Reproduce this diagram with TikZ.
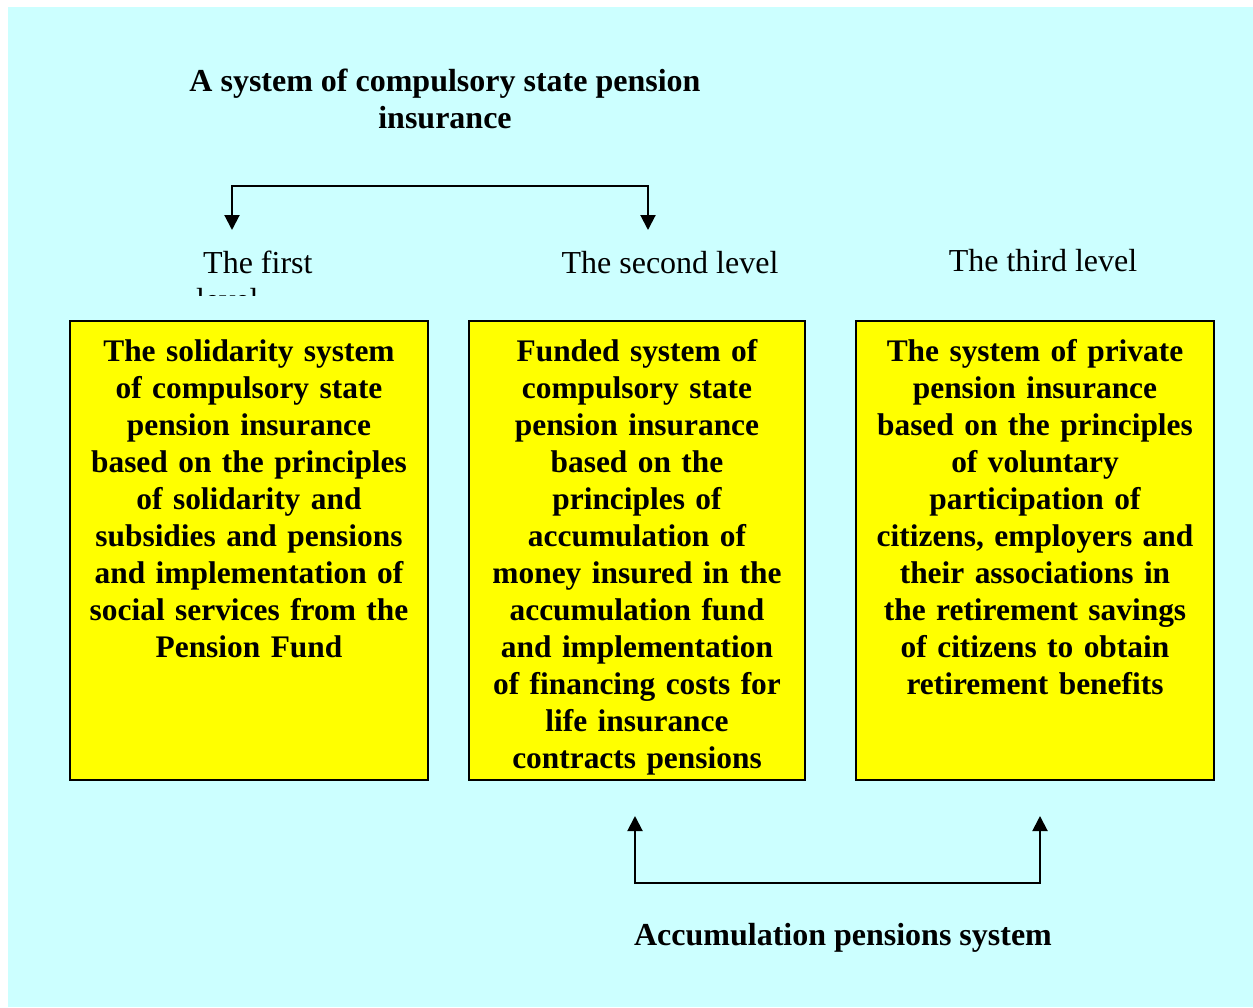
\documentclass[tikz,border=0pt]{standalone}
\usepackage{fontspec}
\setmainfont{Liberation Serif}
\usetikzlibrary{arrows.meta}
\definecolor{bgcyan}{HTML}{CCFFFF}
\definecolor{boxyellow}{HTML}{FFFF00}
\tikzset{
  txt/.style={inner sep=0pt, font=\fontsize{32}{37}\selectfont},
  boldtxt/.style={txt, font=\fontsize{32}{37}\selectfont\bfseries},
  yellowbox/.style={draw=black, line width=2pt, fill=boxyellow, inner sep=0pt},
  boxtext/.style={inner sep=0pt, font=\fontsize{31.4}{37}\selectfont\bfseries, align=center, text width=340pt, anchor=base},
  conn/.style={line width=2pt, {Triangle[length=15pt,width=15pt]}-{Triangle[length=15pt,width=15pt]}}
}
\begin{document}
\begin{tikzpicture}[x=1pt,y=-1pt]
\useasboundingbox (0,0) rectangle (1253,1007);
\fill[bgcyan] (8,7) rectangle (1253,1007);

% title
\node[boldtxt, anchor=base] (title1) at (445,91) {A system of compulsory state pension};
\node[boldtxt, anchor=base] (title2) at (445,128) {insurance};

% level labels
\node[txt, anchor=base west] (l1) at (195,273) {\hspace*{8pt}The first};
\begin{scope}
  \clip (150,280) rectangle (350,295);
  \node[txt, anchor=base west] (l1b) at (196,310) {level};
\end{scope}
\node[txt, anchor=base] (l2) at (670,273) {The second level};
\node[txt, anchor=base] (l3) at (1043,271) {The third level};

% top connector
\coordinate (tipL) at (232,230);
\coordinate (tipR) at (648,230);
\coordinate (jL) at (232,186);
\coordinate (jR) at (648,186);
\draw[conn] (tipL) -- (jL) -- (jR) -- (tipR);

% boxes
\node[yellowbox, minimum width=358pt, minimum height=459pt] (b1) at (249,550.5) {};
\node[yellowbox, minimum width=336pt, minimum height=459pt] (b2) at (637,550.5) {};
\node[yellowbox, minimum width=358pt, minimum height=459pt] (b3) at (1035,550.5) {};

\node[boxtext] (t1) at (249,361) {The solidarity system\\of compulsory state\\pension insurance\\based on the principles\\of solidarity and\\subsidies and pensions\\and implementation of\\social services from the\\Pension Fund};
\node[boxtext] (t2) at (637,361) {Funded system of\\compulsory state\\pension insurance\\based on the\\principles of\\accumulation of\\money insured in the\\accumulation fund\\and implementation\\of financing costs for\\life insurance\\contracts pensions};
\node[boxtext] (t3) at (1035,361) {The system of private\\pension insurance\\based on the principles\\of voluntary\\participation of\\citizens, employers and\\their associations in\\the retirement savings\\of citizens to obtain\\retirement benefits};

% bottom connector
\coordinate (upL) at (635,816);
\coordinate (upR) at (1040,816);
\coordinate (kL) at (635,883);
\coordinate (kR) at (1040,883);
\draw[conn] (upL) -- (kL) -- (kR) -- (upR);

\node[boldtxt, anchor=base] (acc) at (843,945) {Accumulation pensions system};
\end{tikzpicture}
\end{document}
